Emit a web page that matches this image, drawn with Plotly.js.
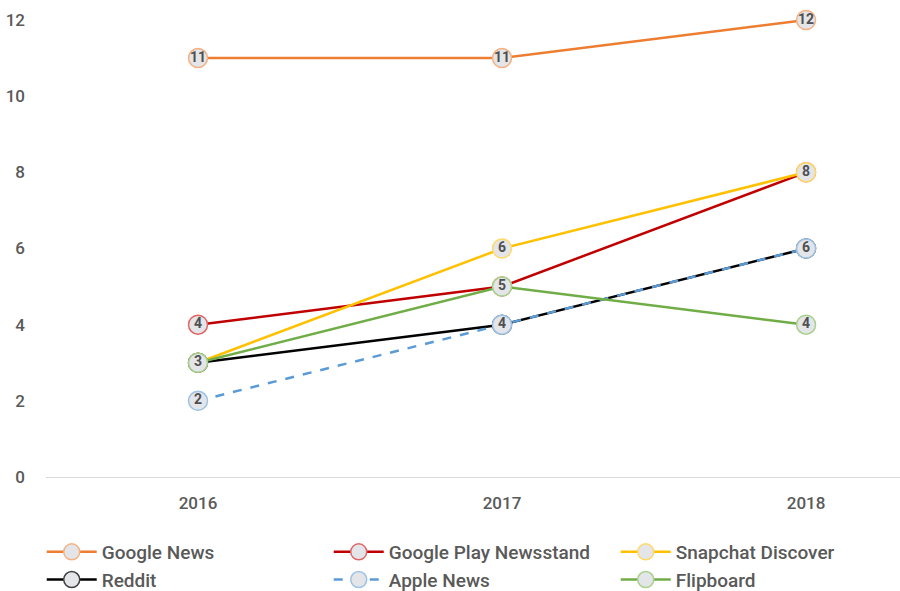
<!DOCTYPE html>
<html><head><meta charset="utf-8">
<script src="https://cdn.plot.ly/plotly-3.0.1.min.js"></script>
<style>body{margin:0;background:#fff}#chart{width:900px;height:591px}</style>
</head><body><div id="chart"></div>
<script>
const years = [2016, 2017, 2018];
const googleNews = [11, 11, 12];
const googlePlay = [4, 5, 8];
const snapchat = [3, 6, 8];
const reddit = [3, 4, 6];
const appleNews = [2, 4, 6];
const flipboard = [3, 5, 4];
const yTicks = [0, 2, 4, 6, 8, 10, 12];

const series = [
  {name: 'Google News', y: googleNews, line: '#ED7D31', edge: '#F4B183', dash: 'solid'},
  {name: 'Google Play Newsstand', y: googlePlay, line: '#C00000', edge: '#E06666', dash: 'solid'},
  {name: 'Snapchat Discover', y: snapchat, line: '#FFC000', edge: '#FFD966', dash: 'solid'},
  {name: 'Reddit', y: reddit, line: '#000000', edge: '#404040', dash: 'solid'},
  {name: 'Apple News', y: appleNews, line: '#5B9BD5', edge: '#9DC3E6', dash: 'dash'},
  {name: 'Flipboard', y: flipboard, line: '#70AD47', edge: '#A9D18E', dash: 'solid'}
];

const traces = series.map(s => ({
  type: 'scatter', mode: 'lines+markers+text', name: s.name,
  x: years, y: s.y, text: s.y.map(String), textposition: 'middle center',
  textfont: {family: 'Roboto, sans-serif', size: 14, color: '#505050', weight: 700},
  line: {color: s.line, width: 2.5, dash: s.dash},
  marker: {size: 19, color: '#E3E5E8', line: {color: s.edge, width: 1.5}},
  cliponaxis: false, hoverinfo: 'skip'
}));

const layout = {
  width: 900, height: 591,
  margin: {l: 46, r: 0, t: 20, b: 114, autoexpand: false},
  paper_bgcolor: '#fff', plot_bgcolor: '#fff',
  font: {family: 'Roboto, sans-serif', color: '#595959'},
  showlegend: true,
  xaxis: {range: [2015.5, 2018.309], tickvals: years, ticktext: years.map(String),
    showgrid: false, zeroline: false, showline: false, ticks: '',
    ticklabelstandoff: 14, tickfont: {size: 17, color: '#595959', weight: 500}},
  yaxis: {range: [0, 12], tickvals: yTicks, showgrid: false, zeroline: true,
    zerolinecolor: '#D9D9D9', zerolinewidth: 1, showline: false, ticks: '',
    ticklabelstandoff: 20, tickfont: {size: 17, color: '#595959', weight: 500}},
  legend: {orientation: 'h', x: -0.005, y: -0.1225, xanchor: 'left', yanchor: 'top',
    entrywidth: 222, entrywidthmode: 'pixels', itemwidth: 50,
    font: {size: 19, color: '#595959', weight: 500}, tracegroupgap: 0, traceorder: 'normal'}
};

Plotly.newPlot('chart', traces, layout, {displayModeBar: false, staticPlot: true});
</script></body></html>
